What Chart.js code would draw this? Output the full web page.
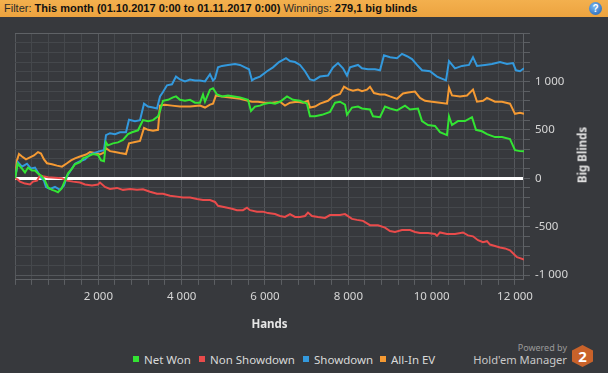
<!DOCTYPE html>
<html><head><meta charset="utf-8">
<script src="https://cdn.jsdelivr.net/npm/chart.js@4"></script>
<style>
html,body{margin:0;padding:0;width:608px;height:373px;overflow:hidden;background:#37393d;font-family:"Noto Sans",sans-serif;}
#hdr{position:absolute;left:0;top:0;width:608px;height:17px;background:linear-gradient(#f3b04e,#eca33f);font-family:"Liberation Sans",Arial,sans-serif;font-size:11px;line-height:17px;color:#2a2a2a;white-space:nowrap;}
#hdr .t{position:absolute;left:4px;top:0}
#hdr b{color:#111}
#help{position:absolute;left:589px;top:2px;width:13px;height:13px;border-radius:50%;background:radial-gradient(circle at 40% 35%,#7ab8f2,#1b5cad);color:#fff;font:bold 10px/13px "Liberation Sans",sans-serif;text-align:center}
#wrap{position:absolute;left:0;top:20px;width:608px;height:320px}
#ytitle{position:absolute;left:582px;top:155px;transform:translate(-50%,-50%) rotate(-90deg);font:bold 11.5px "Noto Sans",sans-serif;color:#e2e2e2;white-space:nowrap}
.li{position:absolute;top:352px;height:16px;line-height:16px;font-size:11.5px;color:#d9d9d9;padding-left:11px;white-space:nowrap}
.li i{position:absolute;left:0;top:4px;width:6px;height:6px}
#pw{position:absolute;right:41px;top:342px;font-size:9px;line-height:11px;color:#9a9a9a}
#hm{position:absolute;right:41px;top:352px;font-size:11.2px;line-height:16px;color:#c8c8c8;white-space:nowrap}
#hex{position:absolute;left:572px;top:345px;width:21px;height:22px;background:#c9622a;clip-path:polygon(50% 0,100% 25%,100% 75%,50% 100%,0 75%,0 25%);color:#fff;font:bold 15px/22px "Noto Sans",sans-serif;text-align:center}
</style></head>
<body>
<div id="hdr"><span class="t">Filter: <b>This month (01.10.2017 0:00 to 01.11.2017 0:00)</b> Winnings: <b>279,1 big blinds</b></span><div id="help">?</div></div>
<div id="wrap"><canvas id="c" width="608" height="320"></canvas></div>
<div id="ytitle">Big Blinds</div>
<div class="li" style="left:133px"><i style="background:#33e433"></i>Net Won</div>
<div class="li" style="left:199px"><i style="background:#e94b4b"></i>Non Showdown</div>
<div class="li" style="left:303px"><i style="background:#3399dd"></i>Showdown</div>
<div class="li" style="left:380px"><i style="background:#f59a33"></i>All-In EV</div>
<div id="pw">Powered by</div>
<div id="hm">Hold'em Manager</div>
<div id="hex">2</div>
<script>
// ---- data (hands, big blinds) ----
const netWonHands = [0,64,168,240,312,408,480,552,640,720,792,888,960,1032,1120,1200,1272,1368,1440,1560,1632,1752,1872,1992,2064,2136,2184,2232,2352,2472,2592,2712,2808,2952,3072,3192,3312,3432,3480,3552,3672,3792,3864,3960,4080,4200,4320,4440,4512,4560,4680,4752,4848,4968,5112,5256,5400,5592,5664,5760,5880,6000,6120,6240,6360,6528,6672,6840,7008,7080,7200,7368,7560,7680,7800,7920,7968,8088,8232,8328,8520,8592,8760,8880,9000,9168,9360,9480,9672,9768,9912,10080,10200,10368,10416,10488,10632,10800,10968,11064,11208,11328,11520,11688,11880,12000,12120,12216];
const netWon      = [0,150,100,60,110,80,80,50,20,-25,-95,-120,-130,-145,-105,-25,50,100,145,165,205,225,250,240,185,175,370,340,360,370,395,455,475,495,600,590,600,640,695,800,810,835,845,810,800,810,780,780,865,790,915,930,865,845,855,845,835,810,695,740,750,770,780,770,790,845,810,800,770,640,640,655,685,780,790,760,655,730,740,720,710,640,630,740,720,700,750,710,720,590,550,540,475,445,640,550,590,590,630,500,485,455,425,425,405,290,280,279];

const nonShowdownHands = [0,72,120,240,360,432,528,600,672,792,960,1128,1248,1392,1560,1680,1848,1992,2040,2160,2280,2448,2592,2760,2928,3072,3240,3408,3552,3720,3888,4032,4200,4368,4512,4680,4800,4872,5040,5208,5328,5472,5568,5640,5808,5952,6072,6240,6360,6480,6600,6720,6840,6960,7032,7128,7272,7440,7560,7680,7800,7920,8088,8208,8352,8520,8712,8880,9000,9120,9288,9480,9600,9720,9912,10080,10128,10200,10368,10560,10752,10872,10992,11112,11232,11328,11400,11520,11640,11760,11880,11952,12048,12120,12216];
const nonShowdown      = [0,-15,-35,-55,-65,-35,-25,30,20,10,5,0,-25,-35,-45,-65,-75,-65,-45,-90,-110,-100,-120,-110,-120,-115,-140,-160,-160,-180,-190,-200,-200,-215,-225,-225,-245,-285,-300,-315,-330,-330,-305,-330,-345,-345,-360,-370,-390,-400,-370,-400,-400,-390,-355,-390,-400,-410,-380,-380,-380,-370,-420,-430,-440,-485,-485,-510,-545,-555,-535,-535,-555,-565,-565,-575,-595,-560,-575,-575,-560,-590,-600,-640,-660,-650,-685,-700,-715,-725,-745,-775,-815,-825,-840];

const showdownHands = [0,72,168,288,384,480,552,624,696,744,840,960,1080,1176,1248,1320,1440,1560,1680,1800,1920,2040,2136,2184,2280,2400,2520,2664,2736,2880,3000,3096,3192,3312,3408,3480,3552,3648,3768,3864,3960,4080,4200,4320,4440,4560,4680,4752,4800,4872,4968,5112,5280,5400,5520,5616,5688,5760,5880,6048,6192,6336,6504,6600,6720,6840,6960,7080,7176,7320,7512,7632,7752,7872,7968,8040,8232,8328,8472,8640,8760,8856,9000,9168,9288,9408,9528,9648,9768,9960,10128,10344,10416,10560,10728,10896,10992,11088,11280,11448,11640,11808,11952,12024,12120,12216];
const showdown      = [0,165,120,150,100,110,60,5,-25,-90,-110,-90,-120,-75,20,70,150,175,195,245,265,280,290,445,465,455,475,475,605,590,600,770,740,730,720,845,890,960,970,1050,1020,1000,1020,1010,1010,1000,1075,1010,1030,1145,1160,1170,1180,1170,1145,1125,1010,1030,1050,1105,1145,1200,1240,1210,1200,1170,1105,1020,1010,1050,1060,1145,1190,1135,1060,1145,1170,1135,1125,1125,1115,1270,1250,1240,1285,1260,1230,1170,1115,1105,1050,1010,1210,1135,1160,1170,1250,1160,1170,1180,1200,1180,1190,1115,1105,1135];

const allInEVHands = [0,48,96,168,264,360,456,552,624,696,768,888,1008,1128,1248,1344,1440,1560,1704,1800,1920,2040,2136,2184,2280,2400,2520,2664,2736,2880,3000,3096,3192,3312,3432,3480,3600,3768,3960,4200,4440,4560,4680,4752,4824,4968,5160,5400,5592,5688,5832,6000,6168,6360,6480,6600,6768,6912,7032,7080,7200,7320,7512,7632,7800,7896,7992,8112,8232,8328,8448,8520,8616,8760,8880,9000,9168,9312,9432,9600,9720,9840,10008,10200,10368,10416,10488,10680,10848,10992,11088,11232,11328,11520,11688,11880,12000,12120,12216];
const allInEV      = [0,185,250,225,195,215,235,270,255,195,155,145,130,120,155,185,205,225,245,270,260,245,265,310,280,270,260,250,360,375,385,520,500,490,500,750,760,750,740,740,750,730,760,770,855,845,835,820,800,790,790,780,780,790,750,780,790,780,800,730,740,770,800,845,870,945,920,905,915,900,915,945,880,865,865,845,820,875,885,895,830,800,790,780,770,935,855,845,855,915,790,800,830,790,790,770,665,675,665];

const xTickStep = 400, xLabelStep = 2000, yTickStep = 100, yLabelStep = 500;
const xMin = 0, xMax = 12216, yMin = -1050, yMax = 1500;

function pts(h, v){ return h.map((x,i)=>({x:x, y:v[i]})); }
function fmt(v){ const s = Math.abs(v).toString().replace(/\B(?=(\d{3})+(?!\d))/g,' '); return (v<0?'-':'')+s; }

const MINOR='#45484c', MAJOR='#55585c', BORDER='#5f6266', TICKC='#5c5f63';
const tickFont = {family:'Noto Sans', size:11.5};

new Chart(document.getElementById('c'), {
  type:'line',
  data:{datasets:[
    {label:'Net Won', data:pts(netWonHands, netWon), borderColor:'#33e433'},
    {label:'Non Showdown', data:pts(nonShowdownHands, nonShowdown), borderColor:'#e94b4b'},
    {label:'Showdown', data:pts(showdownHands, showdown), borderColor:'#3399dd'},
    {label:'All-In EV', data:pts(allInEVHands, allInEV), borderColor:'#f59a33'}
  ]},
  options:{
    responsive:false, animation:false, devicePixelRatio:1,
    layout:{padding:{left:15, top:13, right:35, bottom:8}},
    plugins:{legend:{display:false}, tooltip:{enabled:false}},
    elements:{point:{radius:0}, line:{borderWidth:2, tension:0, fill:false}},
    scales:{
      x:{type:'linear', min:xMin, max:xMax,
        ticks:{stepSize:xTickStep, autoSkip:false, maxRotation:0, minRotation:0, includeBounds:false, maxTicksLimit:1000,
          color:'#d6d6d6', font:tickFont, padding:5,
          callback:v=> (v>0 && v%xLabelStep===0) ? fmt(v) : ''},
        grid:{color:c=> (c.tick && c.tick.value%xLabelStep===0) ? MAJOR : MINOR, tickColor:TICKC, tickLength:5, lineWidth:1},
        border:{color:BORDER, width:1},
        title:{display:true, text:'Hands', color:'#e6e6e6', font:{family:'Noto Sans', size:11.5, weight:'bold'}, padding:{top:9.5, bottom:0}}
      },
      y:{type:'linear', position:'right', min:yMin, max:yMax,
        ticks:{stepSize:yTickStep, autoSkip:false, includeBounds:false, maxTicksLimit:1000,
          color:'#d6d6d6', font:tickFont, padding:5,
          callback:v=> (v%yLabelStep===0 && v!==yMax) ? fmt(v) : ''},
        grid:{color:c=> { const v=c.tick?c.tick.value:null; if(v===0) return '#ffffff'; if(v===yMax) return BORDER; return v%yLabelStep===0?MAJOR:MINOR; },
          lineWidth:c=> (c.tick && c.tick.value===0) ? 3 : 1, tickColor:TICKC, tickWidth:1, tickLength:6},
        border:{color:BORDER, width:1}
      }
    }
  }
});
</script>
</body></html>
